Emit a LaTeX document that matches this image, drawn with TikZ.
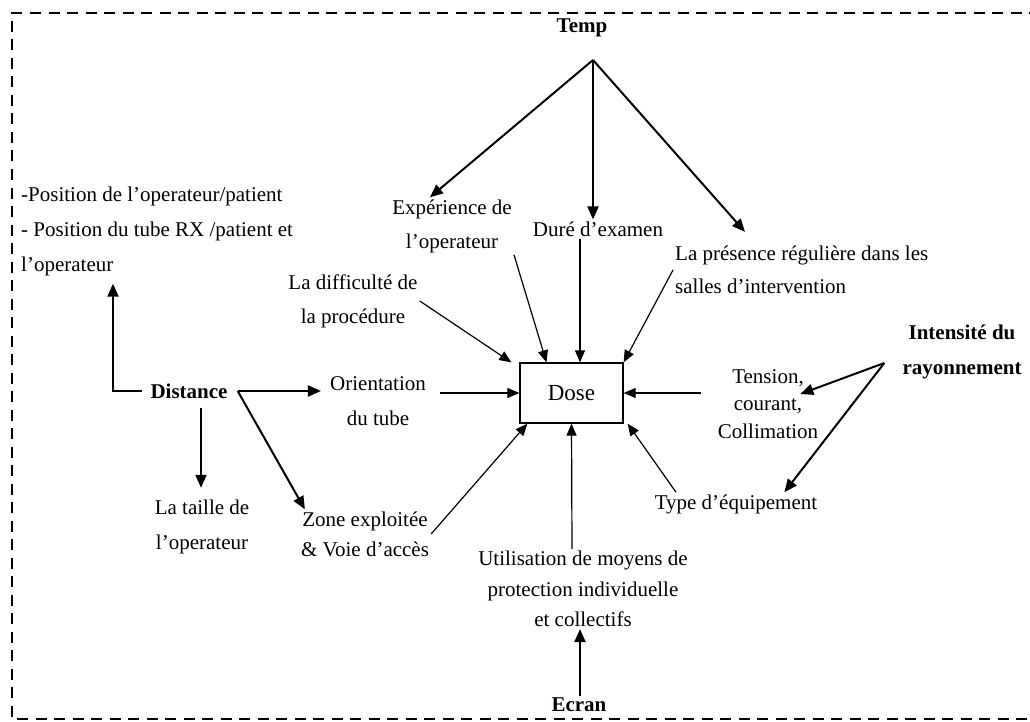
\documentclass[tikz,border=0pt]{standalone}
\usepackage{fontspec}
\setmainfont{Liberation Serif}
\usetikzlibrary{arrows.meta}
\begin{document}
\begin{tikzpicture}[x=1pt,y=-1pt,
    lbl/.style={align=center,inner sep=2pt,font=\fontsize{21}{34}\selectfont},
    head/.style={align=center,inner sep=2pt,font=\fontsize{21}{35}\selectfont\bfseries},
    main/.style={-{Triangle[length=13pt,width=11pt]},line width=2pt},
    feed/.style={-{Triangle[length=12pt,width=10pt]},line width=1.2pt}]
  \useasboundingbox (0,0) rectangle (1030,722);
  \draw[line width=2pt,dash pattern=on 11pt off 7.5pt]
    (1040,13) -- (12,13) -- (12,719) -- (1040,719);
  \draw
    (582,28) node[head] (temp){Temp}
    (452,226) node[lbl] (exper){Expérience de\\l’operateur}
    (598,229) node[lbl] (dure){Duré d’examen}
    (673,270) node[lbl,anchor=west,align=left,font=\fontsize{21}{33}\selectfont] (presence){La présence régulière dans les\\salles d’intervention}
    (353,301) node[lbl] (diff){La difficulté de\\la procédure}
    (571.5,393) node[draw,line width=1.3pt,minimum width=103pt,minimum height=60pt,font=\fontsize{23}{28}\selectfont] (dose){Dose}
    (378,401) node[lbl,font=\fontsize{21}{35}\selectfont] (orient){Orientation\\du tube}
    (189,391) node[head] (dist){Distance}
    (19,231) node[lbl,anchor=west,align=left,font=\fontsize{21}{35}\selectfont] (pos){-Position de l’operateur/patient\\- Position du tube RX /patient et\\l’operateur}
    (202,527) node[lbl,font=\fontsize{21}{35}\selectfont] (taille){La taille de\\l’operateur}
    (365,534) node[lbl,font=\fontsize{21}{30}\selectfont] (zone){Zone exploitée\\\& Voie d’accès}
    (583,589) node[lbl,font=\fontsize{21}{30.5}\selectfont] (util){Utilisation de moyens de\\protection individuelle\\et collectifs}
    (579,705) node[head] (ecran){Ecran}
    (736,504) node[lbl] (typ){Type d’équipement}
    (768,404) node[lbl,font=\fontsize{21}{27.5}\selectfont] (tension){Tension,\\courant,\\Collimation}
    (962,352) node[head] (intens){Intensité du\\rayonnement};
  \coordinate (tempfork) at (593,60);
  \coordinate (intfork) at ([shift={(-16,11)}]intens.west);
  \begin{scope}[main]
    \draw (tempfork) to ([xshift=-22pt]exper.north);
    \draw (tempfork) to ([xshift=-5pt]dure.north);
    \draw (tempfork) to ([shift={(72,-12)}]presence.north west);
    \draw ([xshift=-6pt]dist.west) -| ([shift={(94,6)}]pos.south west);
    \draw ([xshift=8pt]dist.east) to ([xshift=-7pt]orient.west |- dist.east);
    \draw ([shift={(12,7)}]dist.south) to ([shift={(-1,-10)}]taille.north);
    \draw ([xshift=8pt]dist.east) to ([xshift=6pt]zone.north west);
    \draw (intfork) to ([shift={(-20,-10)}]tension.east);
    \draw (intfork) to ([xshift=-35pt]typ.north east);
    \draw ([xshift=1pt]ecran.north) to ([xshift=-3pt]util.south);
  \end{scope}
  \begin{scope}[feed]
    \draw (diff.east) to ([xshift=-8pt]dose.north west);
    \draw (exper.south east) to ([xshift=-25pt]dose.north);
    \draw ([xshift=-18pt]dure.south) to ([xshift=8.5pt]dose.north);
    \draw (presence.west) to (dose.north east);
    \draw ([shift={(12,-8)}]orient.east) to (dose.west);
    \draw ([shift={(-15,-11)}]tension.west) to (dose.east);
    \draw ([xshift=-60pt]typ.north) to ([xshift=4pt]dose.south east);
    \draw ([xshift=-11pt]util.north) to (dose.south);
    \draw (zone.east) to ([xshift=8pt]dose.south west);
  \end{scope}
\end{tikzpicture}
\end{document}
